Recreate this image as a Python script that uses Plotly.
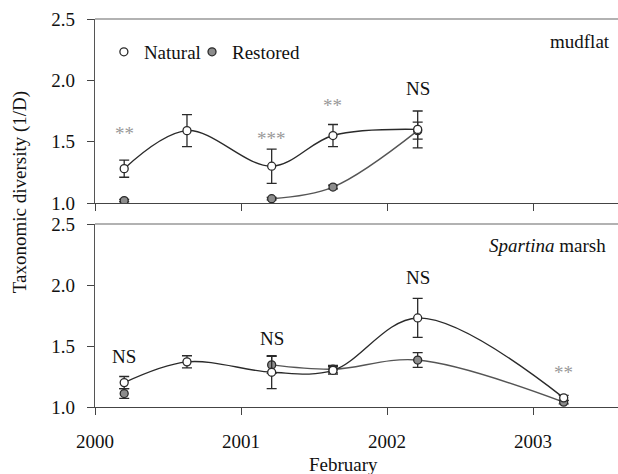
import plotly.graph_objects as go

# ---------------- data ----------------
dates_mud = [2000.2, 2000.63, 2001.21, 2001.63, 2002.21]
mud_nat = [1.28, 1.59, 1.30, 1.55, 1.60]
mud_nat_err = [0.07, 0.13, 0.14, 0.09, 0.15]
mud_res = [1.02, None, 1.035, 1.13, 1.59]
mud_res_err = [0.01, None, 0.01, 0.015, 0.07]
mud_sig = ["**", "", "***", "**", "NS"]
mud_sig_y = [1.58, None, 1.54, 1.81, 1.93]

dates_sp = [2000.2, 2000.63, 2001.21, 2001.63, 2002.21, 2003.21]
sp_nat = [1.20, 1.37, 1.285, 1.30, 1.73, 1.075]
sp_nat_err = [0.05, 0.05, 0.135, 0.03, 0.16, 0.02]
sp_res = [1.11, None, 1.345, 1.31, 1.385, 1.04]
sp_res_err = [0.04, None, 0.07, 0.03, 0.06, 0.015]
sp_sig = ["NS", "", "NS", "", "NS", "**"]
sp_sig_y = [1.41, None, 1.565, None, 2.065, 1.30]

year_ticks = [2000, 2001, 2002, 2003]
y_ticks = [1.0, 1.5, 2.0, 2.5]

FONT = "Liberation Serif"
DARK = "#2a2a2a"
GREY_LINE = "#555555"
RES_FILL = "#8c8c8c"

fig = go.Figure()


def add_series(x, y, err, xa, ya, fill, line_color, name):
    fig.add_trace(go.Scatter(
        x=x, y=y, xaxis=xa, yaxis=ya, name=name, showlegend=False,
        mode="lines+markers", connectgaps=False,
        line=dict(shape="spline", smoothing=1.0, color=line_color, width=1.4),
        marker=dict(symbol="circle", size=8, color=fill, line=dict(color=DARK, width=1.3)),
        error_y=dict(type="data", array=[e if e is not None else 0 for e in err],
                     color=DARK, thickness=1.3, width=5),
    ))


add_series(dates_mud, mud_res, mud_res_err, "x", "y", RES_FILL, GREY_LINE, "Restored")
add_series(dates_mud, mud_nat, mud_nat_err, "x", "y", "white", DARK, "Natural")
add_series(dates_sp, sp_res, sp_res_err, "x2", "y2", RES_FILL, GREY_LINE, "Restored")
add_series(dates_sp, sp_nat, sp_nat_err, "x2", "y2", "white", DARK, "Natural")

# legend entries (markers only)
fig.add_trace(go.Scatter(x=[None], y=[None], mode="markers", name="Natural", legend="legend",
                         marker=dict(size=8, color="white", line=dict(color=DARK, width=1.3))))
fig.add_trace(go.Scatter(x=[None], y=[None], mode="markers", name="Restored", legend="legend2",
                         marker=dict(size=8, color=RES_FILL, line=dict(color=DARK, width=1.3))))

annotations = []
for xs, labels, ys, yref in [(dates_mud, mud_sig, mud_sig_y, "y"), (dates_sp, sp_sig, sp_sig_y, "y2")]:
    for xv, lab, yv in zip(xs, labels, ys):
        if not lab:
            continue
        star = lab.startswith("*")
        annotations.append(dict(
            x=xv, y=yv, xref="x" if yref == "y" else "x2", yref=yref, text=lab, showarrow=False,
            font=dict(family=FONT, size=19, color="#999999" if star else "#111"),
            xanchor="center", yanchor="middle", yshift=-2 if star else 0))

annotations += [
    dict(x=1, y=2.32, xref="paper", yref="y", text="mudflat", showarrow=False,
         xanchor="right", yanchor="middle", xshift=-6, font=dict(family=FONT, size=19, color="#111")),
    dict(x=1, y=2.32, xref="paper", yref="y2", text="<i>Spartina</i> marsh", showarrow=False,
         xanchor="right", yanchor="middle", xshift=-10, font=dict(family=FONT, size=19, color="#111")),
    dict(x=-0.143, y=0.554, xref="paper", yref="paper", text="Taxonomic diversity (1/D)",
         textangle=-90, showarrow=False, xanchor="center", yanchor="middle",
         font=dict(family=FONT, size=19, color="#111")),
    dict(x=(343 - 95) / 523, y=-0.149, xref="paper", yref="paper", text="February",
         showarrow=False, xanchor="center", yanchor="middle",
         font=dict(family=FONT, size=19, color="#111")),
]

XR = [2000, 2003.582]
TOP_DOM = [(407 - 203) / 388, 1]
BOT_DOM = [0, (407 - 224) / 388]

xcommon = dict(range=XR, tickvals=year_ticks, showgrid=False, zeroline=False,
               showline=True, linecolor="#444", linewidth=1.2, tickcolor="#444",
               ticks="outside", ticklen=7, tickwidth=1.2)
ycommon = dict(range=[1.0, 2.5], tickvals=y_ticks, ticktext=[f"{v:.1f}" for v in y_ticks],
               showgrid=False, zeroline=False, showline=True, linecolor="#555", linewidth=1.2,
               ticks="outside", ticklen=7, tickwidth=1.2, tickcolor="#444",
               tickfont=dict(family=FONT, size=19, color="#111"), ticklabelstandoff=8)
inside = dict(showline=False, showgrid=False, zeroline=False, ticks="inside", ticklen=7,
              tickwidth=1.2, tickcolor="#444", showticklabels=False)
legend_common = dict(orientation="h", y=0.915, xanchor="left", yanchor="middle",
                     font=dict(family=FONT, size=19, color="#111"), bgcolor="rgba(0,0,0,0)",
                     itemwidth=30)

fig.update_layout(
    width=618, height=474,
    margin=dict(l=95, r=0, t=19, b=67),
    paper_bgcolor="white", plot_bgcolor="white",
    font=dict(family=FONT, size=19, color="#111"),
    xaxis=dict(**xcommon, domain=[0, 1], anchor="y", showticklabels=False),
    yaxis=dict(**ycommon, domain=TOP_DOM, anchor="x"),
    xaxis2=dict(**xcommon, domain=[0, 1], anchor="y2", showticklabels=True,
                tickfont=dict(family=FONT, size=19, color="#111"), ticklabelstandoff=10),
    yaxis2=dict(**ycommon, domain=BOT_DOM, anchor="x2"),
    # overlay axes giving the inside half of the crossing ticks
    xaxis3=dict(range=XR, tickvals=year_ticks, overlaying="x", anchor="y", **inside),
    xaxis4=dict(range=XR, tickvals=year_ticks, overlaying="x2", anchor="y2", **inside),
    yaxis3=dict(range=[1.0, 2.5], tickvals=y_ticks, overlaying="y", anchor="x", **inside),
    yaxis4=dict(range=[1.0, 2.5], tickvals=y_ticks, overlaying="y2", anchor="x2", **inside),
    legend=dict(**legend_common, x=0.017),
    legend2=dict(**legend_common, x=0.1855),
    annotations=annotations,
    shapes=[
        dict(type="line", xref="paper", yref="y domain", x0=0, x1=1, y0=1, y1=1,
             line=dict(color="#999", width=1.5)),
        dict(type="line", xref="paper", yref="y2 domain", x0=0, x1=1, y0=1, y1=1,
             line=dict(color="#999", width=1.5)),
    ],
)

fig.write_html("out.html", config={"displayModeBar": False},
               post_script="document.body.style.margin='0';document.body.style.padding='0';")
